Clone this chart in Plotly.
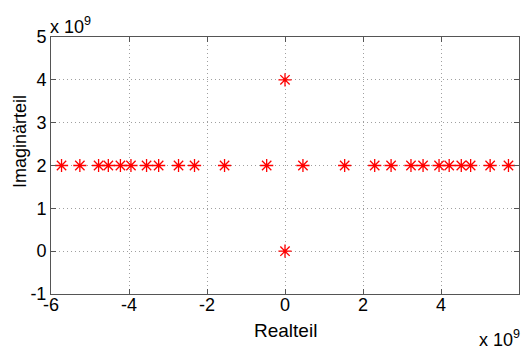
import plotly.graph_objects as go

# Data (units: 1/s)
re_row = [-5.73e9, -5.26e9, -4.78e9, -4.53e9, -4.22e9, -3.95e9, -3.55e9, -3.24e9,
          -2.73e9, -2.32e9, -1.55e9, -0.47e9,
          0.46e9, 1.53e9, 2.30e9, 2.72e9, 3.23e9, 3.54e9, 3.95e9, 4.21e9,
          4.52e9, 4.76e9, 5.26e9, 5.73e9]
im_row = [2e9] * len(re_row)
re_axis = [0.0, 0.0]
im_axis = [4e9, 0.0]

x_ticks = [-6e9, -4e9, -2e9, 0, 2e9, 4e9, 6e9]
x_ticktext = ["-6", "-4", "-2", "0", "2", "4", "6"]
y_ticks = [-1e9, 0, 1e9, 2e9, 3e9, 4e9, 5e9]
y_ticktext = ["-1", "0", "1", "2", "3", "4", "5"]

FONT = "Liberation Sans, Arial, sans-serif"
marker = dict(symbol="asterisk-open", size=11, color="red", line=dict(color="red", width=1.3))

fig = go.Figure()
fig.add_trace(go.Scatter(x=re_row + re_axis, y=im_row + im_axis, mode="markers",
                         marker=marker, showlegend=False))

axis_common = dict(
    showline=True, linecolor="#555555", linewidth=1, mirror="ticks",
    ticks="inside", ticklen=5, tickcolor="#555555",
    showgrid=True, gridcolor="#a0a0a0", griddash="1px,3px", gridwidth=1,
    zeroline=False, automargin=False,
    tickfont=dict(family=FONT, size=18, color="black"),
)

fig.update_layout(
    width=522, height=352,
    margin=dict(l=51, r=3, t=37, b=58),
    paper_bgcolor="white", plot_bgcolor="white",
    font=dict(family=FONT, color="black"),
    xaxis=dict(range=[-6e9, 6e9], tickvals=x_ticks, ticktext=x_ticktext,
               ticklabelstandoff=-6, **axis_common),
    yaxis=dict(range=[-1e9, 5e9], tickvals=y_ticks, ticktext=y_ticktext, **axis_common),
    annotations=[
        dict(text="Realteil", xref="paper", yref="paper", x=0.5, y=0.0,
             xanchor="center", yanchor="middle", showarrow=False,
             font=dict(family=FONT, size=19), yshift=-36),
        dict(text="Imaginärteil", xref="paper", yref="paper", x=0.0, y=0.591,
             xanchor="center", yanchor="middle", showarrow=False, textangle=-90,
             font=dict(family=FONT, size=18), xshift=-31),
        dict(text="x 10<sup>9</sup>", xref="paper", yref="paper", x=0.0, y=1.0,
             xanchor="left", yanchor="bottom", showarrow=False,
             font=dict(family=FONT, size=18), yshift=-2, xshift=-3),
        dict(text="x 10<sup>9</sup>", xref="paper", yref="paper", x=1.0, y=0.0,
             xanchor="right", yanchor="top", showarrow=False,
             font=dict(family=FONT, size=18), yshift=-31, xshift=3),
    ],
)

fig.write_html("out.html", config={"displayModeBar": False},
               post_script="document.body.style.margin='0';")
